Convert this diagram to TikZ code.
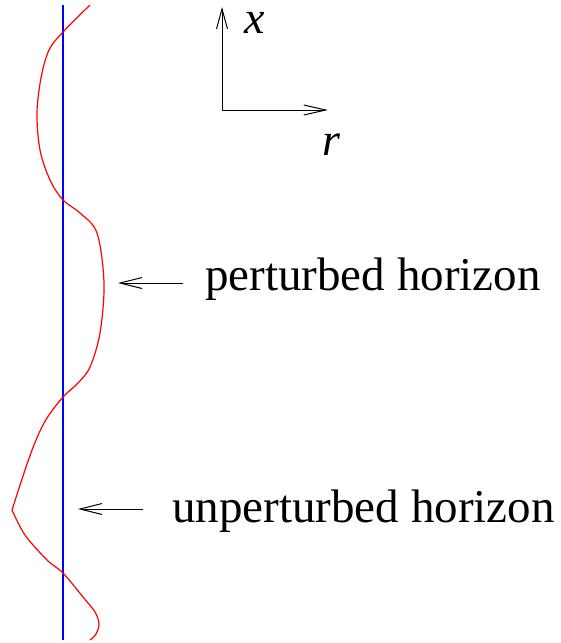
\documentclass[tikz,border=0pt]{standalone}
\usepackage{fontspec}
\setmainfont{Liberation Serif}
\usetikzlibrary{arrows.meta}
\begin{document}
\begin{tikzpicture}[x=1pt,y=-1pt,
  lbl/.style={inner sep=0pt,anchor=base west,font=\fontsize{47}{56}\selectfont},
  axlbl/.style={inner sep=0pt,anchor=base,font=\fontsize{46}{55}\selectfont\itshape},
  arr/.style={line width=1pt,-{Straight Barb[length=22pt,width=11pt,line width=1pt]}},
  horizon/.style={blue,line width=1.3pt},
  pert/.style={red,line width=1.2pt,line join=round}]
\useasboundingbox (0,0) rectangle (560,643);
% unperturbed horizon
\coordinate (ht) at (63,5);
\coordinate (hb) at (63,640);
\draw[horizon] (ht) -- (hb);
% perturbed horizon
\draw[pert] plot[smooth,tension=0.55] coordinates {(90,5) (63,32) (49,50) (41,78) (37,113) (40,150) (50,180) (63,200) (80,213) (97,233) (104,283) (100,333) (90,367) (78,383) (63,397) (47,418) (36,440) (25,470) (12,510)};
\draw[pert] plot[smooth,tension=0.55] coordinates {(12,510) (25,535) (47,560) (63,573) (83,597) (95,612) (99,624) (96,634) (90,640)};
% axes
\coordinate (o) at (222,110);
\coordinate (xt) at (222,7);
\coordinate (rt) at (328,110);
\draw[line width=1pt,-{Straight Barb[length=20pt,width=11pt,line width=1pt]}] (o) -- (xt);
\draw[line width=1pt,-{Straight Barb[length=22pt,width=10pt,line width=1pt]}] (o) -- (rt);
\node[axlbl] (lx) at (255,33) {x};
\node[axlbl] (lr) at (331,155) {r};
% labels
\node[lbl] (lp) at (205,290) {perturbed horizon};
\node[lbl] (lu) at (172,522) {unperturbed horizon};
\coordinate (tailP) at (183,283);
\coordinate (tipP) at (118,283);
\coordinate (tailU) at (143,509);
\coordinate (tipU) at (78,509);
\draw[arr] (tailP) -- (tipP);
\draw[arr] (tailU) -- (tipU);
\end{tikzpicture}
\end{document}
